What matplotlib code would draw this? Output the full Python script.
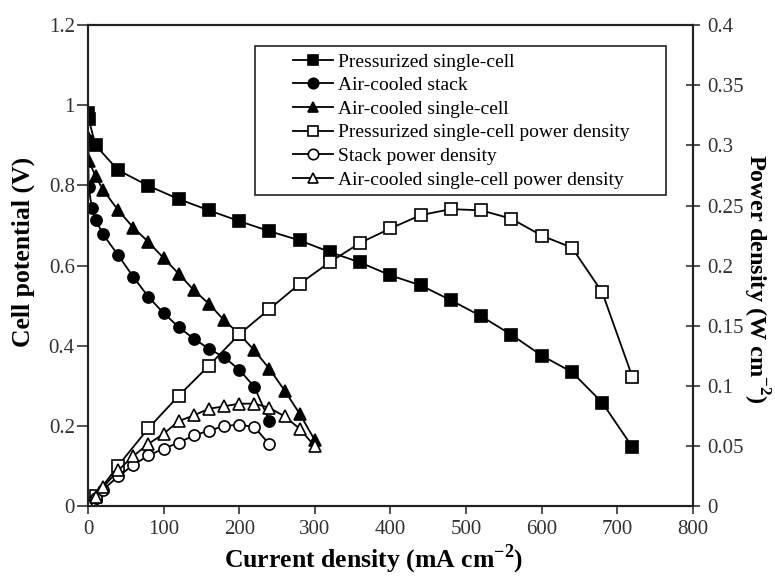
import matplotlib
matplotlib.use("Agg")
import matplotlib.pyplot as plt
from matplotlib.patches import Rectangle

# Pressurized single-cell
x_press = [0, 1, 10, 40, 80, 120, 160, 200, 240, 280, 320, 360, 400, 440, 480, 520, 560, 600, 640, 680, 720]
v_press = [0.98, 0.965, 0.90, 0.838, 0.799, 0.766, 0.738, 0.711, 0.686, 0.663, 0.634, 0.608, 0.576, 0.551,
           0.514, 0.474, 0.428, 0.376, 0.335, 0.259, 0.148]
p_press = [0, 0.001, 0.009, 0.034, 0.065, 0.092, 0.117, 0.143, 0.164, 0.185, 0.203, 0.219, 0.231, 0.242,
           0.247, 0.246, 0.239, 0.225, 0.215, 0.178, 0.1075]

# Air-cooled stack
x_stack = [0, 1, 5, 10, 20, 40, 60, 80, 100, 120, 140, 160, 180, 200, 220, 240]
v_stack = [0.913, 0.795, 0.745, 0.715, 0.678, 0.626, 0.572, 0.522, 0.482, 0.447, 0.418, 0.393, 0.372,
           0.341, 0.298, 0.213]
p_stack = [0, 0.001, 0.004, 0.007, 0.014, 0.025, 0.0345, 0.0424, 0.048, 0.053, 0.059, 0.063, 0.0668,
           0.068, 0.066, 0.0516]

# Air-cooled single-cell
x_air = [0, 1, 10, 20, 40, 60, 80, 100, 120, 140, 160, 180, 200, 220, 240, 260, 280, 300]
v_air = [0.921, 0.862, 0.823, 0.789, 0.738, 0.695, 0.659, 0.619, 0.580, 0.539, 0.505, 0.464, 0.430,
         0.389, 0.343, 0.289, 0.231, 0.165]
p_air = [0, 0.001, 0.008, 0.016, 0.030, 0.042, 0.052, 0.0604, 0.0709, 0.0757, 0.0812, 0.0832, 0.0854,
         0.0854, 0.082, 0.0748, 0.0646, 0.0499]

labels = ["Pressurized single-cell", "Air-cooled stack", "Air-cooled single-cell",
          "Pressurized single-cell power density", "Stack power density",
          "Air-cooled single-cell power density"]
left_ticks = [0, 0.2, 0.4, 0.6, 0.8, 1.0, 1.2]
left_ticklabels = ["0", "0.2", "0.4", "0.6", "0.8", "1", "1.2"]
right_ticks = [0, 0.05, 0.1, 0.15, 0.2, 0.25, 0.3, 0.35, 0.4]
right_ticklabels = ["0", "0.05", "0.1", "0.15", "0.2", "0.25", "0.3", "0.35", "0.4"]
x_ticks = [0, 100, 200, 300, 400, 500, 600, 700, 800]

plt.rcParams['font.family'] = ['Liberation Serif', 'DejaVu Serif']
plt.rcParams['mathtext.fontset'] = 'custom'
plt.rcParams['mathtext.rm'] = 'Liberation Serif'
plt.rcParams['mathtext.bf'] = 'Liberation Serif:bold'

fig = plt.figure(figsize=(7.75, 5.76), dpi=100)
ax = fig.add_axes([0.1135, 0.1207, 0.7806, 0.836])
ax2 = ax.twinx()

lw = 1.3
ms = 8
common = dict(color='black', lw=lw, markeredgecolor='black', markeredgewidth=1.2)
h1, = ax.plot(x_press, v_press, marker='s', ms=ms, markerfacecolor='black', label=labels[0], **common)
h2, = ax.plot(x_stack, v_stack, marker='o', ms=ms, markerfacecolor='black', label=labels[1], **common)
h3, = ax.plot(x_air, v_air, marker='^', ms=ms, markerfacecolor='black', label=labels[2], **common)
h4, = ax2.plot(x_press, p_press, marker='s', ms=ms, markerfacecolor='white', label=labels[3], **common)
h5, = ax2.plot(x_stack, p_stack, marker='o', ms=ms, markerfacecolor='white', label=labels[4], **common)
h6, = ax2.plot(x_air, p_air, marker='^', ms=ms, markerfacecolor='white', label=labels[5], **common)

ax.set_xlim(0, 800)
ax.set_ylim(0, 1.2)
ax2.set_ylim(0, 0.4)
ax.set_xticks(x_ticks)
ax.set_yticks(left_ticks)
ax.set_yticklabels(left_ticklabels)
ax2.set_yticks(right_ticks)
ax2.set_yticklabels(right_ticklabels)

tick_color = '#333333'
ax.tick_params(axis='y', direction='out', length=8, width=1.2, labelsize=15, colors=tick_color, pad=1.5)
ax.tick_params(axis='x', direction='out', length=6, width=1.2, labelsize=15, colors=tick_color, pad=4)
ax2.tick_params(axis='y', direction='inout', length=10, width=1.2, labelsize=15, colors=tick_color, pad=5)
for a in (ax, ax2):
    for s in a.spines.values():
        s.set_linewidth(1.5)
        s.set_color('#222222')

lab_fs = 18.5
ax.set_xlabel(r"Current density (mA cm$^{\mathbf{-2}}$)", fontsize=lab_fs, fontweight='bold')
ax.set_ylabel("Cell potential (V)", fontsize=lab_fs, fontweight='bold')
ax2.set_ylabel(r"Power density (W cm$^{\mathbf{-2}}$)", fontsize=17.5, fontweight='bold')
ax.xaxis.set_label_coords(0.473, -0.109)
ax.yaxis.set_label_coords(-0.107, 0.529)
ax2.yaxis.set_label_coords(1.104, 0.4735)
ax.xaxis.label.set(va='center', ha='center')
ax.yaxis.label.set(va='center', ha='center', rotation_mode='default')
ax2.yaxis.label.set(va='center', ha='center', rotation=-90, rotation_mode='default')

# legend box
rect = Rectangle((0.276, 0.647), 0.679, 0.309, transform=ax.transAxes, fill=True,
                 facecolor='white', edgecolor='#222222', lw=1.2, zorder=5)
ax2.add_patch(rect)
leg = ax2.legend(handles=[h1, h2, h3, h4, h5, h6], loc='upper left', bbox_to_anchor=(0.332, 0.950),
                 frameon=False, fontsize=14, numpoints=1, handlelength=2.06, handletextpad=0.26,
                 labelspacing=0.31, borderpad=0.2, borderaxespad=0)
leg.set_zorder(6)
for h in leg.legend_handles:
    h.set_markersize(7.5)

fig.savefig("out.png", dpi=100, facecolor='white')
